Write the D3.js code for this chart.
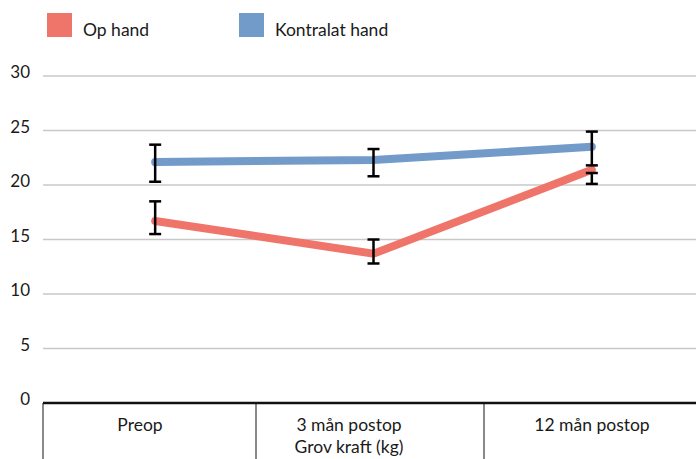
<!DOCTYPE html>
<html>
<head>
<meta charset="utf-8">
<script src="https://cdn.jsdelivr.net/npm/d3@7"></script>
<style>
  html, body { margin: 0; padding: 0; background: #fff; }
  svg { display: block; font-family: Lato, "Open Sans", sans-serif; }
</style>
</head>
<body>
<svg id="chart" width="696" height="459"></svg>
<script>
// Grip strength (kg) over time, operated vs. contralateral hand
const categories = ["Preop", "3 mån postop", "12 mån postop"];
const categoryLabels = [["Preop"], ["3 mån postop", "Grov kraft (kg)"], ["12 mån postop"]];
const seriesNames = ["Op hand", "Kontralat hand"];
const opHand = [16.7, 13.7, 21.4];
const kontralatHand = [22.1, 22.3, 23.5];
const opHandLow = [15.5, 12.8, 20.1];
const opHandHigh = [18.5, 15.0, 21.1];
const kontralatLow = [20.3, 20.8, 21.8];
const kontralatHigh = [23.7, 23.3, 24.9];
const yTicks = [0, 5, 10, 15, 20, 25, 30];

const colors = { "Op hand": "#ef756a", "Kontralat hand": "#739bca" };

const W = 696, H = 459;
const plotLeft = 43, plotRight = 696;
// table column separators under the axis and label anchor positions
const tableLines = [43, 256, 484];
const labelCenters = [140, 349, 592];

const svg = d3.select("#chart");

const x = d3.scaleBand().domain(categories).range([46, 701]);
const y = d3.scaleLinear().domain([0, 30]).range([403, 76]);

// horizontal gridlines
svg.append("g").selectAll("line")
  .data(yTicks.filter(d => d > 0))
  .join("line")
  .attr("x1", plotLeft).attr("x2", plotRight)
  .attr("y1", d => y(d)).attr("y2", d => y(d))
  .attr("stroke", "#c8c8c8").attr("stroke-width", 1.5);

// y tick labels
svg.append("g").selectAll("text")
  .data(yTicks)
  .join("text")
  .attr("x", 30).attr("y", d => y(d) + 2)
  .attr("text-anchor", "end")
  .attr("font-size", 17).attr("fill", "#1a1a1a")
  .text(d => d);

// table under the axis
svg.append("g").selectAll("line")
  .data(tableLines)
  .join("line")
  .attr("x1", d => d).attr("x2", d => d)
  .attr("y1", y(0)).attr("y2", H)
  .attr("stroke", "#8a8a8a").attr("stroke-width", 2);

// baseline axis
svg.append("line")
  .attr("x1", plotLeft).attr("x2", plotRight)
  .attr("y1", y(0)).attr("y2", y(0))
  .attr("stroke", "#111").attr("stroke-width", 2.5);

// category labels
const lab = svg.append("g").selectAll("text")
  .data(categoryLabels)
  .join("text")
  .attr("x", (d, i) => labelCenters[i])
  .attr("y", 431)
  .attr("text-anchor", "middle")
  .attr("font-size", 17.5).attr("fill", "#1a1a1a");
lab.selectAll("tspan")
  .data(d => d)
  .join("tspan")
  .attr("x", function () { return d3.select(this.parentNode).attr("x"); })
  .attr("dy", (d, i) => i === 0 ? 0 : 22)
  .text(d => d);

// series lines
const series = [
  { name: "Op hand", values: opHand, low: opHandLow, high: opHandHigh },
  { name: "Kontralat hand", values: kontralatHand, low: kontralatLow, high: kontralatHigh }
];
const cx = c => x(c) + x.bandwidth() / 2;
const line = d3.line().x(d => cx(d.cat)).y(d => y(d.v));

svg.append("g").selectAll("path")
  .data(series)
  .join("path")
  .attr("d", s => line(categories.map((c, i) => ({ cat: c, v: s.values[i] }))))
  .attr("fill", "none")
  .attr("stroke", s => colors[s.name])
  .attr("stroke-width", 8)
  .attr("stroke-linecap", "round")
  .attr("stroke-linejoin", "miter");

// error bars
const bars = [];
series.forEach(s => categories.forEach((c, i) => bars.push({ cat: c, lo: s.low[i], hi: s.high[i] })));
const eb = svg.append("g").selectAll("g").data(bars).join("g")
  .attr("stroke", "#000").attr("stroke-width", 2.5);
eb.append("line")
  .attr("x1", d => cx(d.cat)).attr("x2", d => cx(d.cat))
  .attr("y1", d => y(d.lo)).attr("y2", d => y(d.hi));
eb.append("line")
  .attr("x1", d => cx(d.cat) - 6).attr("x2", d => cx(d.cat) + 6)
  .attr("y1", d => y(d.lo)).attr("y2", d => y(d.lo));
eb.append("line")
  .attr("x1", d => cx(d.cat) - 6).attr("x2", d => cx(d.cat) + 6)
  .attr("y1", d => y(d.hi)).attr("y2", d => y(d.hi));

// legend
const legendX = [47, 239];
const leg = svg.append("g").selectAll("g").data(seriesNames).join("g");
leg.append("rect")
  .attr("x", (d, i) => legendX[i]).attr("y", 13)
  .attr("width", 25).attr("height", 24)
  .attr("fill", d => colors[d]);
leg.append("text")
  .attr("x", (d, i) => legendX[i] + 36).attr("y", 36)
  .attr("font-size", 17.5).attr("fill", "#1a1a1a")
  .text(d => d);
</script>
</body>
</html>
